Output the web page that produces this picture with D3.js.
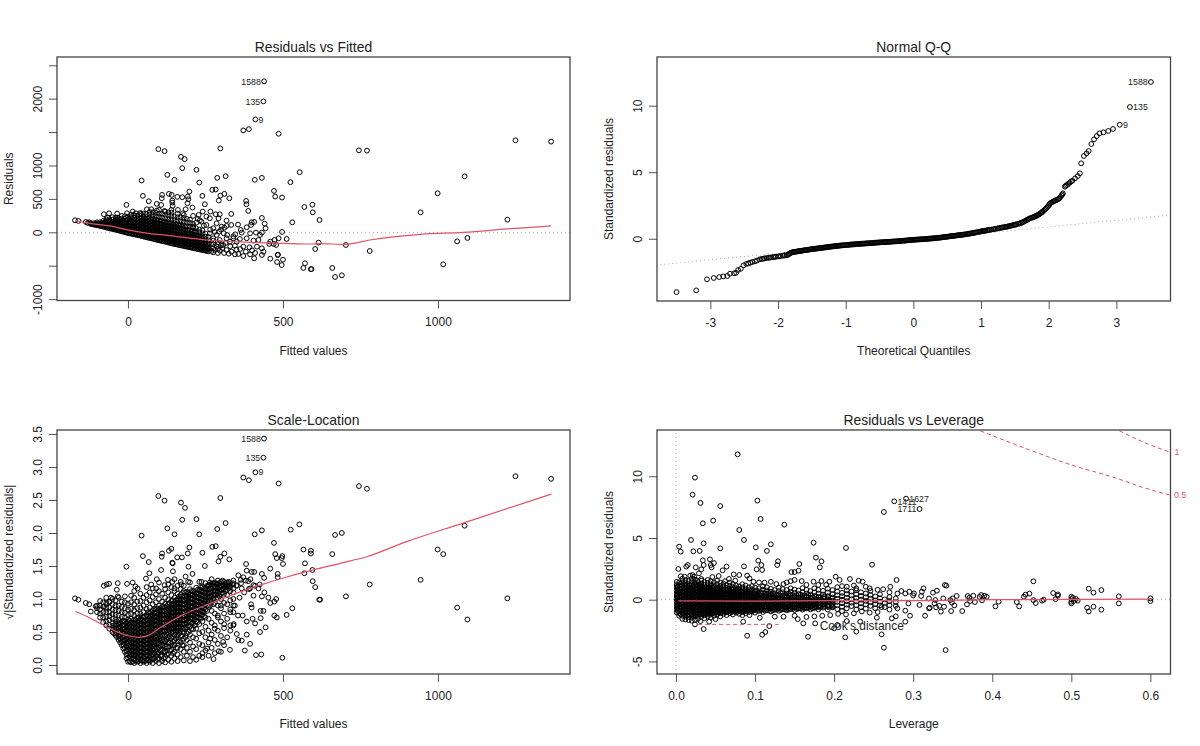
<!DOCTYPE html>
<html><head><meta charset="utf-8">
<script src="https://cdn.jsdelivr.net/npm/d3@7/dist/d3.min.js"></script>
<style>html,body{margin:0;padding:0;background:#fff}svg{display:block}text{font-family:"Liberation Sans",Arial,sans-serif;fill:#222}</style>
</head><body><svg id="c" width="1200" height="746"></svg>
<script>
// ---------- tick labels
const fittedTicks=[0,500,1000];
const residTicks=[-1000,-500,0,500,1000,1500,2000,2500];
const residLabelled=[-1000,0,500,1000,2000];
const qqXTicks=[-3,-2,-1,0,1,2,3];
const qqYTicks=[0,5,10];
const slTicks=[0,.5,1,1.5,2,2.5,3,3.5];
const levTicks=[0,.1,.2,.3,.4,.5,.6];
const levYTicks=[-5,0,5,10];
// ---------- Residuals vs Fitted
const rvfSparse=[[439,2260],[437,1960],[411,1690],[372,1525],[390,1545],[486,1475],[98,1245],[118,1215],[171,1130],[183,1095],[175,960],[221,935],[298,1255],[127,860],[150,785],[44,775],[230,745],[288,815],[315,840],[409,785],[432,815],[554,900],[524,750],[471,620],[475,535],[497,520],[569,379],[595,413],[596,299],[618,184],[530,150],[497,5],[512,-100],[615,-155],[604,-250],[571,-464],[566,-534],[590,-552],[592,-550],[459,-395],[483,-340],[484,-335],[481,-445],[500,-410],[496,-490],[745,1227],[771,1222],[944,299],[999,584],[1086,838],[1224,189],[1250,1377],[1365,1357],[703,-190],[780,-280],[1062,-135],[1095,-85],[1017,-479],[659,-534],[668,-669],[690,-644],
[48,545],[67,465],[-5,410],[-78,270],[-61,285],[-35,280],[-66,220],[-35,220],[-3,285],[15,310],[25,285],[42,275],[61,345],[75,345],[93,325],[110,560],[109,510],[132,575],[141,560],[159,530],[175,525],[193,535],[198,610],[195,495],[192,435],[186,345],[208,370],[143,475],[144,395],[143,445],[107,410],[93,425],[118,320],[140,335],[161,335],[177,285],[210,245],[240,545],[248,420],[241,310],[228,260],[272,635],[283,640],[298,550],[311,575],[327,510],[293,475],[266,310],[283,270],[296,270],[253,235],[264,210],[292,210],[318,175],[333,275],[381,470],[382,420],[388,320],[432,215],[441,130],[444,60],[399,150],[407,155],[397,110],[383,75],[355,115],[364,35],[333,110],[318,95],[311,70],[286,135],[302,85],[275,60],[294,10],[309,-15],[346,-30],[367,-5],[394,-15],[413,-5],[426,-40],[432,-5],[486,-90],[473,-115],[459,-140],[456,-175],[470,-175],[478,-190],[437,-290],[432,-340],[407,-390],[394,-330],[372,-355],[356,-325],[334,-290],[318,-265],[296,-275],[280,-265],[259,-215],[307,-190],[329,-140],[351,-140],[372,-215],[392,-225],[405,-125],[421,-115],[432,-240],[416,-215],[383,-90],[361,-100],[340,-90],[318,-90],[296,-115],[275,-90],[286,-40],[264,-15],[253,110],[237,160],[221,145],[210,85],[-171,180],[-160,170],[-136,155],[-125,150],
[345,-200],[362,-250],[330,-210],[315,-160],[300,-195],[285,-210],[270,-160],[290,-150],[305,-235],[325,-320],[345,-330],[380,-290],[400,-270],[350,-260],[410,-310],[260,-250],[270,-280],[310,-310],[340,-60],[320,-40],[300,40],[280,5],[265,40],[245,100],[232,180],[225,200]];
const rvfColumns=[[-130,[140]],[-120,[125,138]],[-110,[115,135]],[-100,[105,130,150]],[-90,[95,120,150]],[-80,[85,110,140,170]],[-70,[72,100,130,165,195]],[-60,[60,90,125,160,195]],[-50,[50,80,115,150,190,225]],[-40,[38,70,105,145,180,215]],[-30,[27,60,95,135,170,210]],[-20,[15,50,90,125,165,205,245]],[-10,[3,40,80,115,155,200,240]],[0,[-10,30,70,105,145,190,235]],[10,[-20,20,60,100,140,180,225,265]],[20,[-30,10,50,90,130,170,215,255]],[30,[-40,0,40,80,120,165,205,250]],[40,[-50,-10,30,70,110,155,200,245,290]],[50,[-62,-22,18,58,98,140,185,235,280]],[60,[-75,-35,5,45,85,130,175,225,270]],[70,[-85,-45,-5,35,75,120,165,215,265,305]],[80,[-95,-55,-15,25,65,110,155,205,255,300]],[90,[-108,-68,-28,12,52,95,140,190,240,290]],[100,[-120,-80,-40,0,40,85,130,180,230,280,335]],[110,[-130,-90,-50,-10,30,75,120,170,220,275]],[120,[-140,-100,-60,-20,20,65,110,160,210,265,310]],[130,[-152,-112,-72,-32,8,55,100,150,200,255,300]],[140,[-165,-125,-85,-45,-5,40,90,140,190,245,295]],[150,[-175,-135,-95,-55,-15,30,80,130,180,235]],[160,[-185,-145,-105,-65,-25,20,70,120,175,225,280]],[170,[-195,-155,-115,-75,-35,10,60,110,165,220]],[180,[-205,-165,-125,-85,-45,0,50,100,155,210,260]],[190,[-215,-175,-135,-95,-55,-10,40,90,145,200]],[200,[-225,-185,-145,-105,-65,-20,30,85,140,190]],[210,[-235,-195,-155,-115,-75,-30,20,70,125]],[220,[-245,-205,-165,-125,-85,-40,10,60]],[230,[-255,-215,-175,-135,-95,-50,0,40]],[240,[-265,-225,-185,-145,-105,-60,-15,30]],[250,[-275,-235,-195,-150,-110,-65,-20]],[260,[-285,-240,-170,-120,-70]],[275,[-300,-240,-180,-125]],[290,[-310,-250,-180]]];
const rvfCore=[[-115,[120]],[-105,[112,128]],[-95,[102,122]],[-85,[90,112,135]],[-75,[80,100,125,150]],[-65,[66,85,115,145]],[-55,[55,72,100,130,165]],[-45,[45,62,88,125,162]],[-35,[33,50,78,115,155,190]],[-25,[20,42,72,108,148,185]],[-15,[8,32,62,98,135,175]],[-5,[-5,20,50,88,125,170]],[5,[-16,10,42,82,120,160,205]],[15,[-26,-5,30,70,110,150,195]],[25,[-36,-15,20,60,100,145,190]],[35,[-46,-22,20,60,100,142,185]],[45,[-56,-32,10,50,90,135,178]],[55,[-68,-44,-4,38,78,120,165,210]],[65,[-80,-56,-16,26,66,110,155,200]],[75,[-90,-66,-26,16,56,100,145,190]],[85,[-102,-76,-38,6,46,90,135,180]],[95,[-114,-88,-48,-6,36,80,125,170]],[105,[-125,-100,-60,-18,26,70,115,160]],[115,[-135,-110,-70,-30,14,60,105,150]],[125,[-146,-120,-80,-40,2,48,95,140]],[135,[-158,-132,-92,-52,-8,38,85,130]],[145,[-170,-145,-105,-65,-20,28,75,120]],[155,[-180,-155,-115,-75,-32,16,65,110]],[165,[-190,-165,-125,-85,-44,6,55,100]],[175,[-200,-175,-135,-95,-52,-6,45,90]],[185,[-210,-185,-145,-105,-62,-16,35,80]],[195,[-220,-195,-155,-115,-72,-26,25]],[205,[-230,-205,-165,-125,-82,-36,15]],[215,[-240,-215,-175,-135,-92,-46,5]],[225,[-250,-225,-185,-145,-102,-56]],[235,[-260,-235,-195,-155,-112,-66]],[245,[-270,-245,-205,-165,-122]],[255,[-280,-255,-215,-175]]];
const rvfLoess=[[-169,175],[-126,135],[-60,95],[0,35],[70,-20],[125,-45],[254,-115],[394,-150],[502,-165],[585,-175],[615,-170],[703,-180],[780,-115],[944,-30],[1084,0],[1224,50],[1365,95]];
// ---------- Normal Q-Q
const qqTails=[[3.51,11.78],[3.2,9.9],[3.05,8.57],[2.95,8.25],[2.88,8.1],[2.81,8],[2.75,7.92],[2.71,7.72],[2.67,7.47],[2.63,7.12],[2.59,6.59],[2.56,6.42],[2.52,6.22],[2.48,5.67],[2.46,4.92],[2.43,4.71],[2.39,4.54],[2.35,4.36],[2.33,4.3],[2.31,4.21],[2.29,4.12],[2.27,4.04],[2.25,3.98],[2.24,3.91],[2.21,3.41],[2.19,3.25],[2.16,3.04],[2.13,2.95],[2.09,2.86],[2.06,2.77],[2.02,2.66],[2,2.5],[1.97,2.33],[1.94,2.18],[1.91,2.03],[1.89,1.95],[1.86,1.85],[1.84,1.78],[1.82,1.73],[1.79,1.66],[1.76,1.6],[1.72,1.53],[1.69,1.44],[1.66,1.36],[1.62,1.25],[1.59,1.19],[1.55,1.12],[1.52,1.08],[-3.5,-4.01],[-3.21,-3.88],[-3.05,-3.05],[-2.95,-2.95],[-2.87,-2.88],[-2.81,-2.83],[-2.75,-2.8],[-2.71,-2.63],[-2.65,-2.6],[-2.62,-2.56],[-2.59,-2.35],[-2.55,-2.26],[-2.51,-2],[-2.47,-1.9],[-2.44,-1.85],[-2.41,-1.8],[-2.38,-1.75],[-2.34,-1.7],[-2.31,-1.63],[-2.27,-1.55],[-2.24,-1.52],[-2.2,-1.48],[-2.17,-1.45],[-2.14,-1.43],[-2.1,-1.4],[-2.07,-1.38],[-2.03,-1.35],[-2,-1.33],[-1.96,-1.3],[-1.93,-1.27],[-1.9,-1.25]];
const qqBody=[[-1.87,-1.23],[-1.84,-1.15],[-1.81,-1.06],[-1.78,-1],[-1.75,-.98],[-1.72,-.96],[-1.69,-.93],[-1.66,-.91],[-1.63,-.88],[-1.6,-.86],[-1.57,-.84],[-1.54,-.81],[-1.51,-.79],[-1.48,-.77],[-1.45,-.75],[-1.42,-.73],[-1.39,-.71],[-1.36,-.69],[-1.33,-.67],[-1.3,-.65],[-1.27,-.63],[-1.24,-.61],[-1.21,-.59],[-1.18,-.57],[-1.15,-.55],[-1.12,-.54],[-1.09,-.52],[-1.06,-.5],[-1.03,-.49],[-.99,-.47],[-.96,-.46],[-.93,-.44],[-.9,-.43],[-.87,-.42],[-.84,-.4],[-.81,-.39],[-.78,-.38],[-.75,-.37],[-.72,-.36],[-.69,-.35],[-.66,-.34],[-.63,-.33],[-.6,-.32],[-.57,-.3],[-.54,-.29],[-.51,-.28],[-.48,-.27],[-.45,-.26],[-.42,-.25],[-.39,-.24],[-.36,-.23],[-.33,-.22],[-.3,-.21],[-.27,-.2],[-.24,-.19],[-.21,-.18],[-.18,-.16],[-.15,-.15],[-.12,-.14],[-.09,-.12],[-.06,-.11],[-.03,-.09],[0,-.08],[.03,-.07],[.06,-.06],[.09,-.05],[.12,-.04],[.15,-.03],[.18,-.02],[.21,-.01],[.24,.01],[.27,.02],[.3,.03],[.33,.05],[.36,.07],[.39,.08],[.42,.1],[.45,.12],[.48,.14],[.51,.16],[.54,.18],[.57,.2],[.6,.22],[.63,.24],[.66,.26],[.69,.28],[.72,.3],[.75,.32],[.79,.35],[.82,.38],[.85,.4],[.88,.43],[.91,.46],[.94,.49],[.98,.53],[1.01,.56],[1.04,.59],[1.07,.61],[1.1,.64],[1.13,.67],[1.18,.71],[1.22,.75],[1.26,.79],[1.3,.83],[1.34,.87],[1.38,.9],[1.41,.94],[1.44,.98],[1.47,1.01],[1.5,1.05]];
const qqBodyMid=[[-2.22,-1.5],[-2.12,-1.42],[-2.05,-1.36],[-1.98,-1.32],[-1.91,-1.26],[-1.85,-1.2],[-1.825,-1.1],[-1.795,-1.03],[-1.765,-.99],[-1.735,-.97],[-1.705,-.95],[-1.675,-.92],[-1.645,-.9],[-1.615,-.87],[-1.585,-.85],[-1.555,-.83],[-1.525,-.8],[-1.495,-.78],[-1.465,-.76],[-1.435,-.74],[-1.405,-.72],[-1.375,-.7],[-1.345,-.68],[-1.315,-.66],[-1.285,-.64],[-1.255,-.62],[-1.225,-.6],[-1.195,-.58],[-1.165,-.56],[-1.135,-.545],[-1.105,-.53],[-1.075,-.51],[-1.045,-.495],[-1.01,-.48],[-.975,-.465],[-.945,-.45],[-.915,-.435],[-.885,-.425],[-.855,-.41],[-.825,-.395],[-.795,-.385],[-.765,-.375],[-.735,-.365],[-.705,-.355],[-.675,-.345],[-.645,-.335],[-.615,-.325],[-.585,-.31],[-.555,-.295],[-.525,-.285],[-.495,-.275],[-.465,-.265],[-.435,-.255],[-.405,-.245],[-.375,-.235],[-.345,-.225],[-.315,-.215],[-.285,-.205],[-.255,-.195],[-.225,-.185],[-.195,-.17],[-.165,-.155],[-.135,-.145],[-.105,-.13],[-.075,-.115],[-.045,-.1],[-.015,-.085],[.015,-.075],[.045,-.065],[.075,-.055],[.105,-.045],[.135,-.035],[.165,-.025],[.195,-.015],[.225,0],[.255,.015],[.285,.025],[.315,.04],[.345,.06],[.375,.075],[.405,.09],[.435,.11],[.465,.13],[.495,.15],[.525,.17],[.555,.19],[.585,.21],[.615,.23],[.645,.25],[.675,.27],[.705,.29],[.735,.31],[.77,.335],[.805,.365],[.835,.39],[.865,.415],[.895,.445],[.925,.475],[.96,.51],[.995,.545],[1.025,.575],[1.055,.6],[1.085,.625],[1.115,.655],[1.155,.69],[1.2,.73],[1.24,.77],[1.28,.81],[1.32,.85],[1.36,.885],[1.395,.92],[1.425,.96],[1.455,.995],[1.485,1.03],[1.515,1.07],[1.57,1.15],[1.605,1.22],[1.64,1.3],[1.675,1.4],[1.705,1.48],[1.74,1.56],[1.775,1.63],[1.805,1.7],[1.83,1.75],[1.85,1.82],[1.875,1.9],[1.9,2],[1.925,2.1],[1.955,2.25],[1.985,2.42],[2.01,2.58],[2.04,2.72],[2.075,2.82],[2.11,2.9],[2.145,3],[2.175,3.15],[2.2,3.33]];
const qqLineEnds=[[-3.74,-1.95],[3.8,1.78]];
// ---------- Scale-Location
const slSparse=[[439,3.43],[437,3.14],[411,2.92],[372,2.84],[390,2.8],[486,2.75],[98,2.56],[118,2.49],[298,2.53],[171,2.46],[184,2.38],[175,2.2],[221,2.21],[315,2.15],[288,2.06],[127,2.07],[150,1.98],[44,1.96],[230,1.98],[409,1.98],[432,2.04],[471,1.85],[475,1.68],[480,1.62],[498,1.65],[496,1.62],[500,1.53],[459,1.46],[48,1.65],[67,1.56],[-5,1.49],[110,1.69],[109,1.64],[132,1.73],[140,1.76],[144,1.54],[143,1.55],[159,1.63],[174,1.63],[193,1.69],[198,1.78],[195,1.49],[240,1.7],[248,1.5],[272,1.79],[283,1.8],[311,1.69],[298,1.64],[292,1.57],[327,1.6],[381,1.53],[383,1.43],[399,1.41],[407,1.41],[432,1.38],[439,1.32],[483,1.38],[483,1.33],[-33,1.24],[-61,1.23],[-69,1.22],[-78,1.2],[-3,1.23],[15,1.25],[-36,1.14],[-33,1.04],[-171,1.01],[-160,.99],[-136,.94],[-125,.92],[-104,.89],[-55,1.02],[-61,.96],[-77,.89],[-120,.81],
[498,.11],[430,.16],[413,.15],[377,.22],[329,.23],[293,.21],[276,.09],[394,.32],[351,.47],[383,.46],[356,.38],[367,.37],[307,.35],[426,.5],[444,.57],[410,.63],[428,.71],[402,.7],[383,.66],[472,.75],[480,.72],[453,1.02],[478,1],[459,.94],[472,.96],[437,.82],[428,.82],[432,1.04],[405,1.05],[397,.92],[399,.87],[370,.75],[355,.75],[341,.62],[330,.8],[345,.9],[360,1.02],[375,1.1],[390,1.15],[410,1.2],[425,1.22],[440,1.1],[350,1.2],[365,1.24],[380,1.28],[395,1.3],[300,.9],[290,.75],[310,.62],[330,.52],[280,.55],[265,.4],[255,.25],[240,.18],
[745,2.71],[771,2.67],[553,2.13],[525,2.05],[668,1.97],[690,2],[566,1.75],[590,1.73],[590,1.69],[659,1.68],[571,1.54],[595,1.44],[569,1.39],[596,1.27],[604,1.18],[780,1.22],[703,1.04],[617,.99],[620,.99],[530,.86],[944,1.29],[999,1.75],[1017,1.68],[1086,2.11],[1224,1.01],[1250,2.86],[1365,2.82],[1062,.87],[1095,.69],[512,.76],
[58,1.31],[69,1.39],[93,1.3],[107,1.44],[145,1.42],[129,1.29],[143,1.26],[118,1.21],[91,1.16],[75,1.22],[31,1.16],[24,1.19],[186,1.34],[208,1.38],[194,1.26],[172,1.22],[150,1.16],[237,1.26],[264,1.25],[286,1.22],[313,1.22],[338,1.24],[356,1.36],[372,1.33],[364,1.29],[388,1.27],[405,1.21],[421,1.16],[394,1.16],[367,1.16],[351,1.21]];
const slColumns=[[-100,[.8,.86,.9]],[-90,[.72,.78,.84,.9,.97]],[-80,[.65,.72,.8,.88,.95]],[-70,[.6,.66,.73,.8,.87,.94,1.02]],[-60,[.55,.61,.68,.74,.8,.87,.95]],[-50,[.5,.56,.63,.7,.77,.84,.92,1]],[-40,[.45,.5,.56,.62,.69,.76,.83,.9,.98]],[-30,[.38,.44,.5,.56,.62,.68,.75,.82,.9,1.02]],[-20,[.3,.36,.42,.48,.54,.6,.66,.73,.8,.88,.96]],[-10,[.2,.26,.32,.38,.44,.5,.55,.6,.66,.72,.79,.86,.95,1.04]],[0,[.05,.11,.17,.23,.29,.35,.41,.47,.52,.57,.63,.69,.76,.84,.93]],[10,[.04,.1,.16,.22,.28,.34,.4,.46,.52,.58,.64,.7,.77,.85,.95,1.05]],[20,[.03,.09,.15,.21,.27,.33,.39,.45,.51,.57,.63,.69,.75,.83,.92,1.02,1.12]],[30,[.05,.11,.17,.23,.29,.35,.41,.47,.53,.59,.65,.71,.78,.86,.96]],[40,[.03,.09,.15,.21,.27,.33,.39,.45,.51,.57,.63,.7,.78,.87,.97,1.08]],[50,[.05,.11,.17,.23,.29,.35,.41,.47,.53,.59,.65,.72,.8,.9,1.02]],[60,[.03,.09,.15,.21,.27,.33,.39,.45,.51,.57,.63,.69,.76,.85,.95,1.06,1.18]],[70,[.05,.11,.17,.23,.29,.35,.41,.47,.53,.59,.65,.71,.78,.87,.98,1.1]],[80,[.03,.1,.16,.22,.28,.34,.4,.46,.52,.58,.64,.7,.76,.83,.92,1.03,1.16]],[90,[.06,.13,.2,.27,.34,.41,.48,.54,.6,.66,.72,.78,.85,.95,1.07]],[100,[.03,.1,.18,.26,.33,.4,.47,.53,.59,.65,.71,.77,.83,.9,1,1.12,1.25]],[110,[.06,.14,.22,.3,.38,.45,.52,.58,.64,.7,.76,.82,.88,.96,1.08]],[120,[.04,.12,.2,.28,.36,.44,.51,.57,.63,.69,.75,.81,.87,.93,1.02,1.15]],[130,[.08,.17,.26,.34,.42,.5,.56,.62,.68,.74,.8,.86,.92,.99,1.1,1.22]],[140,[.05,.14,.23,.32,.41,.49,.55,.61,.67,.73,.79,.85,.91,.97,1.06,1.18]],[150,[.1,.2,.3,.38,.46,.53,.59,.65,.71,.77,.83,.89,.95,1.02,1.12,1.3]],[160,[.06,.16,.26,.36,.45,.52,.58,.64,.7,.76,.82,.88,.94,1,1.08,1.2]],[170,[.12,.24,.34,.44,.52,.58,.64,.7,.76,.82,.88,.94,1,1.06,1.15,1.26]],[180,[.07,.2,.3,.4,.5,.56,.62,.68,.74,.8,.86,.92,.98,1.04,1.12,1.2]],[190,[.14,.26,.38,.48,.57,.64,.7,.76,.82,.88,.94,1,1.05,1.11]],[200,[.06,.2,.34,.46,.58,.65,.71,.77,.83,.89,.95,1.01,1.07,1.15,1.25]],[210,[.12,.28,.42,.54,.63,.7,.76,.82,.88,.94,1,1.06,1.12]],[220,[.08,.24,.4,.55,.66,.73,.79,.85,.91,.97,1.03,1.09,1.17]],[230,[.14,.32,.48,.62,.72,.78,.84,.9,.96,1.02,1.08,1.14,1.26]],[240,[.12,.3,.5,.66,.76,.82,.88,.94,1,1.06,1.12,1.18]],[250,[.22,.42,.58,.72,.84,.92,.98,1.04,1.1,1.16,1.24]],[260,[.14,.34,.52,.7,.88,.97,1.03,1.09,1.15,1.21]],[270,[.26,.46,.64,.82,.96,1.04,1.1,1.16,1.22,1.3]],[280,[.18,.38,.6,.78,.94,1.06,1.12,1.18,1.24]],[290,[.32,.52,.72,.9,1.02,1.1,1.16,1.22,1.28]],[300,[.2,.44,.66,.86,1,1.08,1.14,1.2,1.26]],[310,[.3,.56,.78,.94,1.08,1.15,1.2,1.26]],[320,[.42,.7,.92,1.06,1.14,1.2,1.25]],[330,[.6,.84,.98,1.12,1.18,1.24]],[340,[.6,.8,.9,1,1.1,1.16,1.22,1.28]]];
const slCore=[[-45,[.48,.54,.6]],[-35,[.42,.48,.54,.6,.66]],[-25,[.34,.4,.46,.52,.58,.64]],[-15,[.25,.31,.37,.43,.49,.55,.61,.67]],[-5,[.1,.16,.22,.28,.34,.4,.46,.52,.58,.64]],[5,[.06,.13,.19,.25,.31,.37,.43,.49,.55,.61,.67]],[15,[.05,.12,.18,.24,.3,.36,.42,.48,.54,.6,.66]],[25,[.07,.14,.2,.26,.32,.38,.44,.5,.56,.62,.68]],[35,[.06,.13,.19,.25,.31,.37,.43,.49,.55,.61,.67,.72]],[45,[.07,.14,.2,.26,.32,.38,.44,.5,.56,.62,.68,.74]],[55,[.06,.13,.19,.25,.31,.37,.43,.49,.55,.61,.67,.73]],[65,[.07,.14,.2,.26,.32,.38,.44,.5,.56,.62,.68,.74,.8]],[75,[.08,.14,.2,.26,.32,.38,.44,.5,.56,.62,.68,.74,.8]],[85,[.1,.18,.25,.31,.37,.43,.49,.55,.61,.67,.73,.79,.85]],[95,[.09,.17,.24,.31,.37,.44,.5,.56,.62,.68,.74,.8,.86]],[105,[.14,.22,.3,.37,.44,.5,.56,.62,.68,.74,.8,.86]],[115,[.1,.2,.3,.38,.45,.52,.58,.64,.7,.76,.82,.88]],[125,[.16,.28,.38,.46,.53,.59,.65,.71,.77,.83,.89]],[135,[.22,.34,.44,.52,.58,.64,.7,.76,.82,.88,.94]],[145,[.18,.3,.42,.5,.56,.62,.68,.74,.8,.86,.92,.98]],[155,[.26,.4,.5,.56,.62,.68,.74,.8,.86,.92,.98]],[165,[.36,.48,.56,.62,.68,.74,.8,.86,.92,.98,1.04]],[175,[.3,.44,.55,.62,.68,.74,.8,.86,.92,.98,1.04]],[185,[.42,.54,.62,.68,.74,.8,.86,.92,.98,1.04,1.1]],[195,[.5,.6,.67,.73,.79,.85,.91,.97,1.03,1.09]],[205,[.55,.63,.7,.76,.82,.88,.94,1,1.06,1.12]],[215,[.6,.68,.74,.8,.86,.92,.98,1.04,1.1]],[225,[.65,.72,.78,.84,.9,.96,1.02,1.08,1.14]],[235,[.7,.76,.82,.88,.94,1,1.06,1.12,1.18]],[245,[.74,.8,.86,.92,.98,1.04,1.1,1.16]],[255,[.82,.9,.96,1.02,1.08,1.14,1.2]],[265,[.9,.98,1.04,1.1,1.16,1.22]],[275,[.92,1,1.06,1.12,1.18,1.24]],[285,[1,1.06,1.12,1.18,1.24]],[295,[1.04,1.12,1.18,1.24]],[305,[1.1,1.16,1.22,1.28]],[315,[1.12,1.18,1.24]],[325,[1.16,1.2,1.26]]];
const slLoess=[[-169,.81],[-126,.72],[-82,.61],[-39,.51],[4,.44],[37,.42],[64,.445],[102,.56],[177,.76],[253,.91],[351,1.09],[426,1.21],[510,1.33],[684,1.54],[770,1.64],[899,1.87],[1081,2.15],[1366,2.59]];
// ---------- Residuals vs Leverage
const rvlSparse=[[.078,11.78],[.024,9.89],[.021,8.51],[.031,7.84],[.056,7.59],[.103,8.03],[.034,6.19],[.047,6.41],[.107,6.54],[.08,5.65],[.137,6.08],[.019,4.84],[.035,4.57],[.004,4.3],[.006,3.89],[.022,3.92],[.03,3.95],[.056,4.16],[.086,4.84],[.101,4.24],[.12,4.49],[.115,3.95],[.174,4.62],[.215,4.19],[.177,3.41],[.184,3.11],[.182,2.62],[.248,2.84],[.104,3.16],[.108,2.81],[.102,2.46],[.109,2.41],[.128,2.81],[.129,3.11],[.156,2.89],[.155,2.35],[.146,2.24],[.15,2.24],[.086,2.7],[.064,2.68],[.059,2.38],[.043,3.27],[.048,2.97],[.044,2.81],[.045,2.62],[.034,3.19],[.035,2.81],[.032,2.46],[.029,2.14],[.025,2.62],[.015,2.81],[.013,2.68],[.003,2.49],[.021,2],[.011,1.86],[.023,1.86],[.032,1.68],[.046,1.84],[.054,1.92],[.067,1.68],[.073,2.05],[.08,2],[.09,1.95],[.093,1.73],[.112,1.38],[.127,1.27],[.136,1.27],[.15,1.6],[.159,1.51],[.174,1.46],[.184,1.51],[.194,1.46],[.202,1.86],[.207,1.6],[.22,1.68],[.231,1.54],[.236,1.46],[.279,1.6],[.216,1.05],[.228,.92],[.245,.92],[.271,1.05],[.285,.7],[.295,.65],[.301,.51],[.313,.92],[.311,.65],[.325,.57],[.33,.73],[.276,7.97],[.291,8.19],[.308,7.35],[.263,7.11],
[.024,-2],[.035,-2.38],[.05,-1.57],[.042,-1.78],[.031,-1.73],[.09,-2.92],[.109,-2.84],[.113,-2.62],[.118,-2.14],[.167,-3],[.161,-1.92],[.154,-1.57],[.176,-1.92],[.2,-2.32],[.204,-2.05],[.214,-3.05],[.216,-1.73],[.228,-2.59],[.233,-1.78],[.254,-1.46],[.26,-2.81],[.263,-3.89],[.273,-1.51],[.278,-1.35],[.29,-1.78],[.296,-1.3],[.315,-1.3],[.32,-.7],[.308,-.43],[.29,-.89],[.294,-.3],[.125,-1.38],[.136,-1.38],[.106,-1.46],[.093,-1.25],[.085,-1.78],[.084,-1.25],
[.341,-4.08],[.34,1.19],[.342,1.14],[.328,-.03],[.327,-.3],[.329,-.62],[.321,-.65],[.335,-.97],[.333,-.5],[.339,-.57],[.338,.11],[.348,-.92],[.347,-.03],[.35,.11],[.349,-.24],[.352,-.46],[.355,.3],[.362,-.92],[.368,-.38],[.369,.3],[.371,.16],[.372,-.11],[.376,.32],[.378,-.19],[.384,.22],[.386,.38],[.387,-.05],[.39,.32],[.393,.24],[.404,-.54],[.408,-.16],[.431,-.19],[.434,-.54],[.44,.24],[.442,.41],[.447,.49],[.452,1.49],[.452,-.03],[.455,-.27],[.463,-.08],[.465,0],[.477,.54],[.48,.05],[.483,.43],[.483,.32],[.5,.24],[.5,.05],[.5,-.16],[.5,-.3],[.502,.16],[.503,-.11],[.506,.05],[.508,-.08],[.522,.89],[.528,.57],[.538,.78],[.52,-.65],[.522,-.95],[.528,-.57],[.538,-.81],[.56,.27],[.56,-.3],[.6,.11],[.6,-.11],
[.006,1.9],[.018,1.95],[.027,1.55],[.04,1.6],[.052,1.55],[.062,1.5],[.075,1.55],[.098,1.45],[.105,1.4],[.12,1.45],[.14,1.4],[.145,1.5],[.165,1.2],[.18,1.2],[.19,1.2],[.21,1.1],[.225,1.15],[.24,1.05],[.255,.8],[.262,.85],[.27,.6],[.28,.5],[.29,.5],[.3,.35],[.31,.3],[.32,.1],[.26,-.6],[.27,-.8],[.28,-.7],[.255,-1],[.245,-1.05],[.235,-.95],[.225,-1.1],[.215,-1.2],[.205,-1.15],[.195,-1.25],[.185,-1.3],[.175,-1.35],[.165,-1.4],[.15,-1.3]];
const rvlColumns=[[.001,[-1.05,-.8,-.58,-.36,-.14,.08,.3,.52,.74,.96,1.2,1.45]],[.004,[-1.3,-1.08,-.86,-.64,-.42,-.2,.02,.24,.46,.68,.9,1.14,1.4]],[.008,[-1.55,-1.3,-1.06,-.84,-.62,-.4,-.18,.04,.26,.48,.7,.92,1.16,1.42,1.7]],[.012,[-1.6,-1.35,-1.1,-.88,-.66,-.44,-.22,0,.22,.44,.66,.88,1.1,1.35,1.6]],[.016,[-1.65,-1.4,-1.18,-.96,-.74,-.52,-.3,-.08,.14,.36,.58,.8,1.02,1.26,1.52]],[.02,[-1.7,-1.45,-1.2,-.98,-.76,-.54,-.32,-.1,.12,.34,.56,.78,1,1.25,1.5,1.72]],[.024,[-1.62,-1.36,-1.12,-.9,-.68,-.46,-.24,-.02,.2,.42,.64,.86,1.1,1.36,1.62]],[.028,[-1.55,-1.3,-1.06,-.84,-.62,-.4,-.18,.04,.26,.48,.7,.92,1.16,1.42]],[.032,[-1.4,-1.16,-.94,-.72,-.5,-.28,-.06,.16,.38,.6,.82,1.05,1.3,1.55]],[.036,[-1.5,-1.25,-1.02,-.8,-.58,-.36,-.14,.08,.3,.52,.74,.96,1.2,1.45]],[.04,[-1.35,-1.12,-.9,-.68,-.46,-.24,-.02,.2,.42,.64,.86,1.1,1.36]],[.044,[-1.45,-1.2,-.98,-.76,-.54,-.32,-.1,.12,.34,.56,.78,1,1.24,1.5]],[.048,[-1.3,-1.06,-.84,-.62,-.4,-.18,.04,.26,.48,.7,.92,1.16,1.4]],[.052,[-1.2,-.98,-.76,-.54,-.32,-.1,.12,.34,.56,.78,1,1.25]],[.056,[-1.35,-1.1,-.88,-.66,-.44,-.22,0,.22,.44,.66,.88,1.12,1.38]],[.06,[-1.15,-.93,-.71,-.49,-.27,-.05,.17,.39,.61,.83,1.06,1.3]],[.064,[-1.25,-1.02,-.8,-.58,-.36,-.14,.08,.3,.52,.74,.96,1.2]],[.068,[-1.1,-.88,-.66,-.44,-.22,0,.22,.44,.66,.88,1.12,1.38]],[.072,[-1.2,-.96,-.74,-.52,-.3,-.08,.14,.36,.58,.8,1.02,1.26]],[.076,[-1.05,-.83,-.61,-.39,-.17,.05,.27,.49,.71,.93,1.16]],[.08,[-1.15,-.92,-.7,-.48,-.26,-.04,.18,.4,.62,.84,1.08]],[.084,[-1,-.78,-.56,-.34,-.12,.1,.32,.54,.76,1,1.25]],[.088,[-1.1,-.88,-.66,-.44,-.22,0,.22,.44,.66,.9,1.15]],[.092,[-1,-.78,-.56,-.34,-.12,.1,.32,.54,.76,1]],[.096,[-.95,-.72,-.5,-.28,-.06,.16,.38,.6,.84,1.1]],[.1,[-1.05,-.82,-.6,-.38,-.16,.06,.28,.5,.74,.98]],[.105,[-.9,-.66,-.44,-.22,0,.22,.44,.68,.92]],[.11,[-1,-.76,-.54,-.32,-.1,.12,.34,.58,.82,1.08]],[.115,[-.85,-.62,-.4,-.18,.04,.26,.5,.74,1]],[.12,[-.95,-.72,-.5,-.28,-.06,.16,.4,.64,.88]],[.125,[-.82,-.6,-.38,-.16,.06,.28,.52,.78]],[.13,[-.9,-.68,-.46,-.24,-.02,.2,.44,.7,.98]],[.135,[-.78,-.56,-.34,-.12,.1,.34,.6,.86]],[.14,[-.86,-.64,-.42,-.2,.02,.26,.5,.78]],[.145,[-.75,-.52,-.3,-.08,.14,.38,.64,.92]],[.15,[-.84,-.6,-.38,-.16,.06,.3,.56,.82]],[.155,[-.72,-.48,-.26,-.04,.2,.46,.74]],[.16,[-.8,-.56,-.34,-.12,.1,.36,.62,.94]],[.165,[-.7,-.46,-.24,-.02,.22,.5,.8]],[.17,[-.78,-.54,-.32,-.08,.16,.42,.7]],[.175,[-.66,-.42,-.2,.04,.3,.6,.92]],[.18,[-.78,-.5,-.26,-.02,.22,.5,.8]],[.186,[-.64,-.38,-.12,.14,.42,.72]],[.192,[-.8,-.5,-.24,.02,.28,.58,.9]],[.198,[-.62,-.34,-.08,.18,.46,.78]],[.204,[-.76,-.46,-.18,.08,.36,.66,1.02]],[.21,[-.92,-.56,-.28,0,.28,.56]],[.216,[-.7,-.4,-.12,.16,.46,.76]],[.222,[-.52,-.24,.04,.34,.66]],[.228,[-.8,-.44,-.14,.14,.44,.76]],[.234,[-.6,-.3,0,.3,.6]],[.24,[-.72,-.38,-.1,.2,.5]],[.246,[-.5,-.2,.08,.38,.72]],[.252,[-.7,-.36,-.06,.26]],[.258,[-.46,-.16,.12,.44]],[.264,[-.6,-.26,.02]],[.27,[-.44,-.12,.22]],[.278,[-.5,-.2,.1]]];
const rvlCore=[[.002,[-.9,-.68,-.46,-.24,-.02,.2,.42,.64,.86,1.08]],[.006,[-1.2,-.96,-.74,-.52,-.3,-.08,.14,.36,.58,.8,1.02,1.28]],[.01,[-1.25,-1,-.77,-.55,-.33,-.11,.11,.33,.55,.77,1,1.25]],[.014,[-1.3,-1.05,-.83,-.61,-.39,-.17,.05,.27,.49,.71,.93,1.18]],[.018,[-1.25,-1.02,-.79,-.57,-.35,-.13,.09,.31,.53,.75,.97,1.2]],[.022,[-1.3,-1.06,-.85,-.63,-.41,-.19,.03,.25,.47,.69,.91,1.14]],[.026,[-1.22,-.98,-.75,-.53,-.31,-.09,.13,.35,.57,.79,1.01,1.26]],[.03,[-1.2,-1,-.8,-.58,-.36,-.14,.08,.3,.52,.74,.96,1.18]],[.034,[-1.15,-.95,-.74,-.52,-.3,-.08,.14,.36,.58,.8,1.02]],[.038,[-1.18,-1,-.79,-.57,-.35,-.13,.09,.31,.53,.75,.97]],[.042,[-1.1,-.92,-.73,-.51,-.29,-.07,.15,.37,.59,.81,1.03]],[.046,[-1.12,-.95,-.78,-.56,-.34,-.12,.1,.32,.54,.76,.98]],[.05,[-1.05,-.88,-.71,-.49,-.27,-.05,.17,.39,.61,.83]],[.054,[-1.05,-.9,-.76,-.54,-.32,-.1,.12,.34,.56,.78,1]],[.058,[-1,-.84,-.69,-.47,-.25,-.03,.19,.41,.63,.85]],[.062,[-1,-.86,-.72,-.5,-.28,-.06,.16,.38,.6,.82]],[.066,[-.98,-.82,-.67,-.45,-.23,-.01,.21,.43,.65,.87]],[.07,[-1,-.84,-.7,-.48,-.26,-.04,.18,.4,.62,.84]],[.074,[-.95,-.8,-.65,-.43,-.21,.01,.23,.45,.67]],[.078,[-.98,-.82,-.68,-.46,-.24,-.02,.2,.42,.64,.86]],[.082,[-.92,-.78,-.63,-.41,-.19,.03,.25,.47,.69]],[.086,[-.95,-.8,-.66,-.44,-.22,0,.22,.44,.66]],[.09,[-.9,-.76,-.61,-.39,-.17,.05,.27,.49,.71]],[.094,[-.92,-.78,-.64,-.42,-.2,.02,.24,.46,.68]],[.098,[-.88,-.74,-.6,-.38,-.16,.06,.28,.5]],[.1025,[-.9,-.75,-.62,-.4,-.18,.04,.26,.48,.7]],[.1075,[-.86,-.72,-.58,-.36,-.14,.08,.3,.52]],[.1125,[-.88,-.73,-.6,-.38,-.16,.06,.28,.5]],[.1175,[-.84,-.7,-.56,-.34,-.12,.1,.32,.54]],[.1225,[-.85,-.72,-.58,-.36,-.14,.08,.3,.52]],[.1275,[-.8,-.68,-.54,-.32,-.1,.12,.34]],[.1325,[-.83,-.7,-.56,-.34,-.12,.1,.32,.54]],[.1375,[-.78,-.66,-.52,-.3,-.08,.14,.36]],[.1425,[-.8,-.68,-.54,-.32,-.1,.12,.34,.5]],[.1475,[-.74,-.62,-.5,-.28,-.06,.16,.38]],[.1525,[-.76,-.64,-.52,-.3,-.08,.14,.36]],[.1575,[-.7,-.6,-.48,-.26,-.04,.18,.4]],[.1625,[-.72,-.62,-.5,-.28,-.06,.16,.34]],[.1675,[-.68,-.58,-.46,-.24,-.02,.2,.38]],[.1725,[-.7,-.6,-.48,-.26,-.04,.18]],[.1775,[-.62,-.52,-.42,-.2,.02,.24]],[.1825,[-.64,-.54,-.44,-.22,0,.2]],[.1875,[-.58,-.48,-.38,-.16,.06,.26]],[.1925,[-.6,-.5,-.4,-.18,.04,.22]],[.1975,[-.55,-.45,-.35,-.13,.09]]];
const rvlLoess=[[.003,-.1],[.1,-.12],[.2,-.08],[.3,-.08],[.4,0],[.5,.03],[.6,.05]];
const cookHalfUpper=[[.385,13.68],[.447,12.14],[.5,10.92],[.557,9.84],[.59,9.11],[.624,8.49]];
const cookOneUpper=[[.561,13.68],[.59,12.8],[.625,11.95]];
const cookHalfLower=[[.028,-2],[.06,-2],[.09,-2],[.13,-2]];
// ---------- labels of the extreme points: [x, y, text, side]
const rvfIds=[[439,2260,"1588","l"],[437,1960,"135","l"],[411,1690,"9","r"]];
const qqIds=[[3.51,11.78,"1588","l"],[3.2,9.9,"135","r"],[3.05,8.57,"9","r"]];
const slIds=[[439,3.43,"1588","l"],[437,3.14,"135","l"],[411,2.92,"9","r"]];
const rvlIds=[[.276,7.97,"1411","r"],[.291,8.19,"1627","r"],[.308,7.35,"1711","l"]];

const RED="#DF536B";
const svg=d3.select("#c");
const expand=c=>c.flatMap(([x,ys])=>ys.map(y=>[x,y]));
const plain=v=>String(v);

function panel(o){
  const g=svg.append("g");
  const x=d3.scaleLinear().domain(o.xd).range([o.l,o.r]);
  const y=d3.scaleLinear().domain(o.yd).range([o.b,o.t]);
  const cid="clip"+o.id;
  svg.append("clipPath").attr("id",cid).append("rect").attr("x",o.l).attr("y",o.t).attr("width",o.r-o.l).attr("height",o.b-o.t);
  const ax=d3.axisBottom(x).tickValues(o.xt).tickSize(8).tickPadding(9).tickFormat(o.xf||plain);
  const gx=g.append("g").attr("transform",`translate(0,${o.b})`).call(ax);
  const ay=d3.axisLeft(y).tickValues(o.yt).tickSize(8).tickPadding(0).tickFormat(v=>o.yl?(o.yl.includes(v)?o.yf(v):""):o.yf(v));
  const gy=g.append("g").attr("transform",`translate(${o.l},0)`).call(ay);
  [gx,gy].forEach(a=>{a.select(".domain").remove();a.selectAll("line").attr("stroke","#555").attr("stroke-width",1);
    a.selectAll("text").attr("font-size",12).attr("font-family",'"Liberation Sans",Arial,sans-serif').style("fill","#222");});
  gy.selectAll("text").attr("x",null).attr("dy",null).attr("text-anchor","middle").attr("transform","translate(-15,0) rotate(-90)");
  const lay=g.append("g").attr("clip-path",`url(#${cid})`);
  const line=d3.line().x(d=>x(d[0])).y(d=>y(d[1]));
  (o.dotted||[]).forEach(d=>lay.append("path").attr("d",line(d)).attr("fill","none").attr("stroke","#aaa").attr("stroke-width",1).attr("stroke-dasharray","1 3"));
  lay.append("g").selectAll("circle").data(o.pts).join("circle").attr("cx",d=>x(d[0])).attr("cy",d=>y(d[1])).attr("r",2.4).attr("fill","none").attr("stroke","#000").attr("stroke-width",1);
  (o.red||[]).forEach(d=>lay.append("path").attr("d",d3.line().curve(d3.curveMonotoneX).x(p=>x(p[0])).y(p=>y(p[1]))(d)).attr("fill","none").attr("stroke",RED).attr("stroke-width",1.2));
  (o.dash||[]).forEach(d=>lay.append("path").attr("d",d3.line().curve(d3.curveMonotoneX).x(p=>x(p[0])).y(p=>y(p[1]))(d)).attr("fill","none").attr("stroke",RED).attr("stroke-width",1).attr("stroke-dasharray","4 3"));
  g.append("rect").attr("x",o.l).attr("y",o.t).attr("width",o.r-o.l).attr("height",o.b-o.t).attr("fill","none").attr("stroke","#444").attr("stroke-width",1.3);
  (o.ids||[]).forEach(([a,b,t,s])=>g.append("text").attr("x",x(a)+(s=="l"?-3.2:3.2)).attr("y",y(b)+3.2).attr("text-anchor",s=="l"?"end":"start").attr("font-size",8.8).text(t));
  g.append("text").attr("x",(o.l+o.r)/2).attr("y",o.t-5).attr("text-anchor","middle").attr("font-size",13.9).text(o.title);
  g.append("text").attr("x",(o.l+o.r)/2).attr("y",o.b+54).attr("text-anchor","middle").attr("font-size",12).text(o.xlab);
  g.append("text").attr("transform",`translate(${o.l-44},${(o.t+o.b)/2}) rotate(-90)`).attr("text-anchor","middle").attr("font-size",12).text(o.ylab);
  return {g,x,y};
}
const fittedDomain=[-229,1426];
panel({id:1,l:57,r:570,t:57,b:300.5,xd:fittedDomain,yd:[-1021,2624],xt:fittedTicks,yt:residTicks,yl:residLabelled,yf:plain,
  pts:[...expand(rvfColumns),...expand(rvfCore),...rvfSparse],red:[rvfLoess],dotted:[[[-229,0],[1426,0]]],ids:rvfIds,title:"Residuals vs Fitted",xlab:"Fitted values",ylab:"Residuals"});
panel({id:2,l:657,r:1170.5,t:57,b:301,xd:[-3.789,3.8],yd:[-4.68,13.66],xt:qqXTicks,yt:qqYTicks,yf:plain,
  pts:[...qqBody,...qqBodyMid,...qqTails],dotted:[qqLineEnds],ids:qqIds,title:"Normal Q-Q",xlab:"Theoretical Quantiles",ylab:"Standardized residuals"});
panel({id:3,l:57,r:570,t:430,b:674,xd:fittedDomain,yd:[-.136,3.56],xt:fittedTicks,yt:slTicks,yf:d3.format(".1f"),
  pts:[...expand(slColumns),...expand(slCore),...slSparse],red:[slLoess],ids:slIds,title:"Scale-Location",xlab:"Fitted values",ylab:"√|Standardized residuals|"});
const p4=panel({id:4,l:657,r:1170.5,t:430,b:674,xd:[-.024,.6254],yd:[-6.02,13.75],xt:levTicks,xf:d3.format(".1f"),yt:levYTicks,yf:plain,
  pts:[...expand(rvlColumns),...expand(rvlCore),...rvlSparse],red:[rvlLoess],dash:[cookHalfUpper,cookOneUpper,cookHalfLower],dotted:[[[-.024,0],[.6254,0]],[[0,-6.02],[0,13.75]]],ids:rvlIds,title:"Residuals vs Leverage",xlab:"Leverage",ylab:"Standardized residuals"});
p4.g.append("text").attr("x",p4.x(.235)).attr("y",p4.y(-2.1)+4).attr("text-anchor","middle").attr("font-size",12).text("Cook's distance");
[[.6254,8.49,"0.5"],[.6254,11.95,"1"]].forEach(([a,b,t])=>p4.g.append("text").attr("x",p4.x(a)+(t=="1"?6.5:9.5)).attr("y",p4.y(b)+3).attr("text-anchor","middle").attr("font-size",8.8).style("fill",RED).text(t));
</script></body></html>
